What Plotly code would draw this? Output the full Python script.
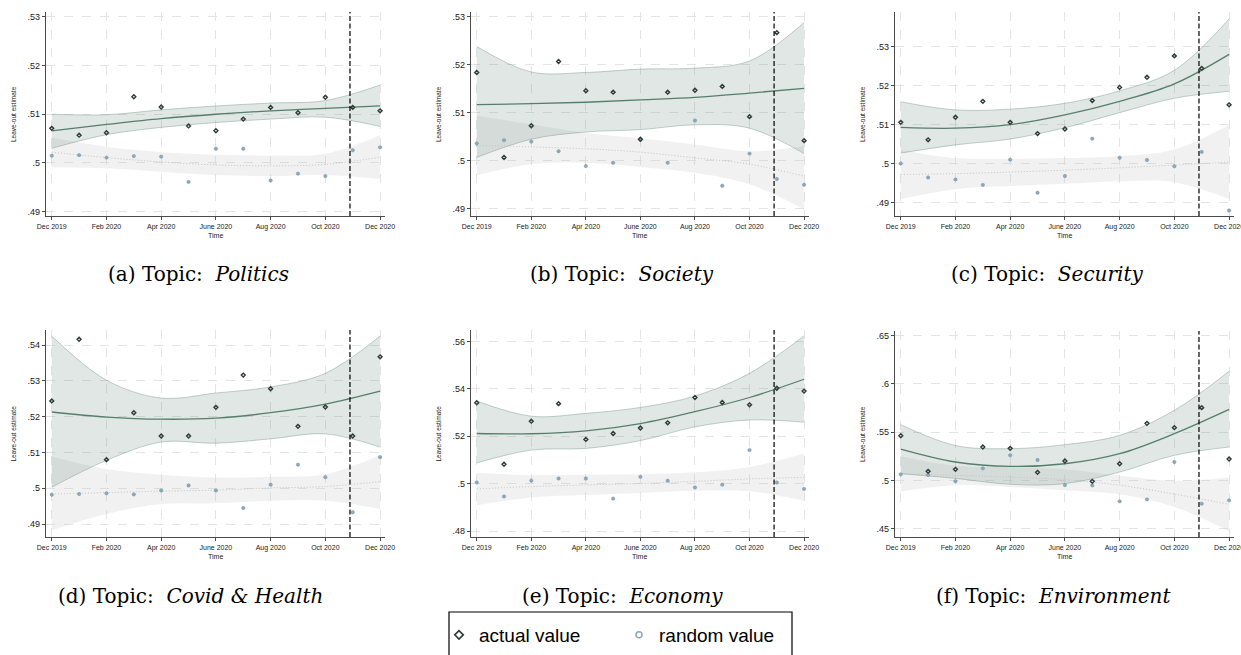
import plotly.graph_objects as go

# ---------------- data ----------------
MONTHS = list(range(13))          # 0 = Dec 2019 ... 12 = Dec 2020
FIT_X = [0, 2, 4, 6, 8, 10, 12]   # months where the fitted curves were read
TICK_VALS = [0, 2, 4, 6, 8, 10, 12]
TICK_TEXT = ["Dec 2019", "Feb 2020", "Apr 2020", "June 2020", "Aug 2020", "Oct 2020", "Dec 2020"]
EVENT_MONTH = 10.9                # dashed vertical line (early Nov 2020)

# (a) Politics
POL_ACTUAL = [.5071, .5057, .5062, .5136, .5115, .5076, .5066, .5090, .5114, .5103, .5135, .5114, .5107]
POL_RANDOM = [.5015, .5016, .5011, .5014, .5013, .4961, .5029, .5029, .4964, .4978, .4973, .5026, .5032]
POL_FIT = [.5066, .5079, .5091, .5100, .5107, .5112, .5117]
POL_FIT_HI = [.5100, .5099, .5109, .5117, .5123, .5128, .5160]
POL_FIT_LO = [.5030, .5058, .5073, .5083, .5090, .5094, .5075]
POL_RFIT = [.5022, .5011, .5002, .4996, .4994, .4997, .5012]
POL_RFIT_HI = [.5052, .5033, .5022, .5017, .5015, .5019, .5057]
POL_RFIT_LO = [.4991, .4989, .4982, .4975, .4973, .4975, .4967]

# (b) Society
SOC_ACTUAL = [.5184, .5007, .5073, .5207, .5146, .5143, .5045, .5143, .5147, .5155, .5092, .5267, .5042]
SOC_RANDOM = [.5036, .5043, .5040, .5020, .4989, .4996, .5044, .4996, .5084, .4948, .5015, .4962, .4950]
SOC_FIT = [.5117, .5119, .5122, .5127, .5132, .5141, .5151]
SOC_FIT_HI = [.5238, .5185, .5184, .5191, .5193, .5208, .5288]
SOC_FIT_LO = [.5007, .5045, .5060, .5065, .5075, .5068, .5015]
SOC_RFIT = [.5032, .5029, .5025, .5018, .5006, .4993, .4968]
SOC_RFIT_HI = [.5094, .5076, .5058, .5047, .5034, .5020, .5031]
SOC_RFIT_LO = [.4970, .4993, .4996, .4987, .4975, .4951, .4899]

# (c) Security
SEC_ACTUAL = [.5106, .5061, .5119, .5160, .5106, .5077, .5089, .5162, .5196, .5222, .5277, .5245, .5151]
SEC_RANDOM = [.5000, .4964, .4959, .4945, .5010, .4925, .4968, .5064, .5015, .5009, .4993, .5030, .4879]
SEC_FIT = [.5093, .5091, .5100, .5125, .5160, .5205, .5281]
SEC_FIT_HI = [.5159, .5138, .5140, .5155, .5187, .5240, .5372]
SEC_FIT_LO = [.5027, .5048, .5063, .5092, .5131, .5168, .5186]
SEC_RFIT = [.4972, .4974, .4978, .4983, .4989, .4996, .5004]
SEC_RFIT_HI = [.5035, .5014, .5012, .5014, .5019, .5036, .5100]
SEC_RFIT_LO = [.4909, .4934, .4942, .4948, .4954, .4952, .4909]

# (d) Covid & Health
COV_ACTUAL = [.5244, .5416, .5080, .5211, .5146, .5146, .5226, .5316, .5278, .5173, .5227, .5146, .5367]
COV_RANDOM = [.4982, .4984, .4986, .4983, .4994, .5008, .4994, .4945, .5010, .5066, .5031, .4933, .5087]
COV_FIT = [.5213, .5199, .5193, .5196, .5211, .5235, .5271]
COV_FIT_HI = [.5425, .5302, .5252, .5266, .5283, .5321, .5425]
COV_FIT_LO = [.5003, .5078, .5129, .5126, .5138, .5152, .5115]
COV_RFIT = [.4984, .4988, .4992, .4995, .5001, .5005, .5019]
COV_RFIT_HI = [.5089, .5054, .5038, .5030, .5032, .5039, .5092]
COV_RFIT_LO = [.4883, .4928, .4956, .4958, .4965, .4965, .4942]

# (e) Economy
ECO_ACTUAL = [.5342, .5082, .5264, .5338, .5187, .5212, .5235, .5257, .5364, .5343, .5333, .5403, .5391]
ECO_RANDOM = [.5005, .4946, .5013, .5022, .5022, .4937, .5029, .5013, .4984, .4996, .5142, .5005, .4978]
ECO_FIT = [.5212, .5211, .5223, .5254, .5304, .5364, .5441]
ECO_FIT_HI = [.5349, .5285, .5297, .5322, .5370, .5466, .5624]
ECO_FIT_LO = [.5088, .5142, .5149, .5182, .5240, .5269, .5260]
ECO_RFIT = [.4978, .4988, .4995, .5001, .5010, .5020, .5027]
ECO_RFIT_HI = [.5046, .5036, .5038, .5040, .5048, .5071, .5128]
ECO_RFIT_LO = [.4909, .4942, .4952, .4961, .4970, .4968, .4928]

# (f) Environment
ENV_ACTUAL = [.5462, .5093, .5114, .5345, .5331, .5083, .5200, .4990, .5172, .5590, .5545, .5752, .5221]
ENV_RANDOM = [.5062, .5055, .4990, .5124, .5259, .5210, .4952, .4948, .4783, .4803, .5190, .4759, .4793]
ENV_FIT = [.5324, .5190, .5145, .5172, .5276, .5483, .5734]
ENV_FIT_HI = [.5576, .5360, .5328, .5369, .5466, .5724, .6128]
ENV_FIT_LO = [.5069, .5020, .4959, .4966, .5086, .5259, .5345]
ENV_RFIT = [.5069, .5052, .5034, .5007, .4950, .4858, .4752]
ENV_RFIT_HI = [.5250, .5150, .5135, .5115, .5050, .4995, .5030]
ENV_RFIT_LO = [.4885, .4950, .4932, .4898, .4855, .4725, .4475]

Y_TICKS_A = [.49, .50, .51, .52, .53]
Y_TEXT_A = [".49", ".5", ".51", ".52", ".53"]
Y_TICKS_D = [.49, .50, .51, .52, .53, .54]
Y_TEXT_D = [".49", ".5", ".51", ".52", ".53", ".54"]
Y_TICKS_E = [.48, .50, .52, .54, .56]
Y_TEXT_E = [".48", ".5", ".52", ".54", ".56"]
Y_TICKS_F = [.45, .50, .55, .60, .65]
Y_TEXT_F = [".45", ".5", ".55", ".6", ".65"]

CAPTION_LETTERS = ["a", "b", "c", "d", "e", "f"]
TOPICS = ["Politics", "Society", "Security", "Covid &amp; Health", "Economy", "Environment"]
LEGEND_LABELS = ["actual value", "random value"]

PANELS = [
    (POL_ACTUAL, POL_RANDOM, POL_FIT, POL_FIT_HI, POL_FIT_LO, POL_RFIT, POL_RFIT_HI, POL_RFIT_LO, Y_TICKS_A, Y_TEXT_A),
    (SOC_ACTUAL, SOC_RANDOM, SOC_FIT, SOC_FIT_HI, SOC_FIT_LO, SOC_RFIT, SOC_RFIT_HI, SOC_RFIT_LO, Y_TICKS_A, Y_TEXT_A),
    (SEC_ACTUAL, SEC_RANDOM, SEC_FIT, SEC_FIT_HI, SEC_FIT_LO, SEC_RFIT, SEC_RFIT_HI, SEC_RFIT_LO, Y_TICKS_A, Y_TEXT_A),
    (COV_ACTUAL, COV_RANDOM, COV_FIT, COV_FIT_HI, COV_FIT_LO, COV_RFIT, COV_RFIT_HI, COV_RFIT_LO, Y_TICKS_D, Y_TEXT_D),
    (ECO_ACTUAL, ECO_RANDOM, ECO_FIT, ECO_FIT_HI, ECO_FIT_LO, ECO_RFIT, ECO_RFIT_HI, ECO_RFIT_LO, Y_TICKS_E, Y_TEXT_E),
    (ENV_ACTUAL, ENV_RANDOM, ENV_FIT, ENV_FIT_HI, ENV_FIT_LO, ENV_RFIT, ENV_RFIT_HI, ENV_RFIT_LO, Y_TICKS_F, Y_TEXT_F),
]

# ---------------- layout geometry (pixels) ----------------
W, H = 1241, 655
# left, right, top, bottom of each plot area
BOXES = [(46, 385, 12, 216), (471, 809, 12, 216), (895, 1234, 12, 216),
         (46, 385, 330, 537), (471, 809, 330, 537), (895, 1234, 331, 537)]
Y_RANGES = [(.4891, .5310), (.4885, .5310), (.4865, .5390),
            (.4864, .5442), (.4775, .5649), (.4414, .6545)]
X_RANGE = (-0.21, 12.18)
CAPTION_POS = [(198, 274), (622, 274), (1047, 274), (190, 596), (622, 596), (1053, 596)]

GREEN_LINE = "#557f6d"
GREEN_FILL = "rgba(100,135,118,0.20)"
GREEN_EDGE = "rgba(120,150,135,0.55)"
GRAY_FILL = "rgba(190,190,190,0.22)"
GRAY_LINE = "#c2c2c2"
ACTUAL_COLOR = "#2f3b36"
RANDOM_COLOR = "#8aa9ba"
AXIS_COLOR = "#4a4a4a"
SANS = "Liberation Sans, Arial, sans-serif"
TICK_FONT = dict(family=SANS, size=7, color="#222")

fig = go.Figure()
annotations = []
shapes = []
layout_axes = {}

for i, (panel, box, yr) in enumerate(zip(PANELS, BOXES, Y_RANGES)):
    (act, rnd, fit, hi, lo, rfit, rhi, rlo, yt, ytx) = panel
    n = i + 1
    xa = "x" if n == 1 else f"x{n}"
    ya = "y" if n == 1 else f"y{n}"
    common = dict(xaxis=xa, yaxis=ya, showlegend=False, hoverinfo="skip")

    # random-value CI band
    fig.add_trace(go.Scatter(x=FIT_X, y=rhi, mode="lines", line=dict(width=0, shape="spline"), **common))
    fig.add_trace(go.Scatter(x=FIT_X, y=rlo, mode="lines", line=dict(width=0, shape="spline"),
                             fill="tonexty", fillcolor=GRAY_FILL, **common))
    # actual-value CI band
    fig.add_trace(go.Scatter(x=FIT_X, y=hi, mode="lines", line=dict(width=0.8, color=GREEN_EDGE, shape="spline"), **common))
    fig.add_trace(go.Scatter(x=FIT_X, y=lo, mode="lines", line=dict(width=0.8, color=GREEN_EDGE, shape="spline"),
                             fill="tonexty", fillcolor=GREEN_FILL, **common))
    # fitted lines
    fig.add_trace(go.Scatter(x=FIT_X, y=rfit, mode="lines",
                             line=dict(width=1, color=GRAY_LINE, dash="1px,2px", shape="spline"), **common))
    fig.add_trace(go.Scatter(x=FIT_X, y=fit, mode="lines",
                             line=dict(width=1.3, color=GREEN_LINE, shape="spline"), **common))
    # points
    fig.add_trace(go.Scatter(x=MONTHS, y=rnd, mode="markers",
                             marker=dict(symbol="circle", size=3.4, color=RANDOM_COLOR,
                                         line=dict(width=0.5, color="#7796a8")), **common))
    fig.add_trace(go.Scatter(x=MONTHS, y=act, mode="markers",
                             marker=dict(symbol="diamond-open", size=3, color=ACTUAL_COLOR,
                                         line=dict(width=1.4, color=ACTUAL_COLOR)), **common))

    l, r, t, b = box
    layout_axes["xaxis" if n == 1 else f"xaxis{n}"] = dict(
        domain=[l / W, r / W], range=list(X_RANGE), anchor=ya,
        tickmode="array", tickvals=TICK_VALS, ticktext=TICK_TEXT,
        showgrid=True, gridcolor="#e4e4e4", griddash="dash", gridwidth=1,
        showline=True, linecolor=AXIS_COLOR, linewidth=1.2,
        ticks="outside", ticklen=3, tickcolor=AXIS_COLOR, tickwidth=1,
        tickfont=TICK_FONT, zeroline=False, fixedrange=True, ticklabeloverflow="allow",
    )
    layout_axes["yaxis" if n == 1 else f"yaxis{n}"] = dict(
        domain=[1 - b / H, 1 - t / H], range=list(yr), anchor=xa,
        tickmode="array", tickvals=yt, ticktext=ytx,
        showgrid=True, gridcolor="#e4e4e4", griddash="dash", gridwidth=1,
        showline=True, linecolor=AXIS_COLOR, linewidth=1.4,
        ticks="outside", ticklen=3, tickcolor=AXIS_COLOR, tickwidth=1,
        tickfont=dict(family=SANS, size=9, color="#222"),
        zeroline=False, fixedrange=True,
    )

    # event line
    shapes.append(dict(type="line", xref=xa, yref=f"{ya} domain", x0=EVENT_MONTH, x1=EVENT_MONTH,
                       y0=0, y1=1, line=dict(color="black", width=1.2, dash="5px,2.5px")))

    # axis titles
    annotations.append(dict(text="Leave-out estimate", xref="paper", yref="paper",
                            x=(l - 33) / W, y=1 - ((t + b) / 2) / H, textangle=-90, showarrow=False,
                            font=dict(family=SANS, size=6.5, color="#222"),
                            xanchor="center", yanchor="middle"))
    annotations.append(dict(text="Time", xref="paper", yref="paper",
                            x=((l + r) / 2) / W, y=1 - (b + 19) / H, showarrow=False,
                            font=dict(family=SANS, size=7, color="#222"),
                            xanchor="center", yanchor="middle"))
    # caption
    cx, cy = CAPTION_POS[i]
    annotations.append(dict(text=f"({CAPTION_LETTERS[i]}) Topic:&#160;&#160;<i>{TOPICS[i]}</i>",
                            xref="paper", yref="paper", x=cx / W, y=1 - cy / H, showarrow=False,
                            font=dict(family="DejaVu Serif, serif", size=20, color="black"),
                            xanchor="center", yanchor="middle"))

# legend entries (legend-only traces)
fig.add_trace(go.Scatter(x=[None], y=[None], mode="markers", name=LEGEND_LABELS[0],
                         marker=dict(symbol="diamond-open", size=6.5, color=ACTUAL_COLOR,
                                     line=dict(width=1.6, color=ACTUAL_COLOR))))
fig.add_trace(go.Scatter(x=[None], y=[None], mode="markers", name=LEGEND_LABELS[1],
                         marker=dict(symbol="circle-open", size=6, color=RANDOM_COLOR,
                                     line=dict(width=1.5, color=RANDOM_COLOR))))

# legend frame (bottom edge runs off the page like the reference)
shapes.append(dict(type="rect", xref="paper", yref="paper",
                   x0=449 / W, x1=792 / W, y0=-0.05, y1=1 - 612 / H,
                   line=dict(color="black", width=1.2), fillcolor="rgba(0,0,0,0)"))

fig.update_layout(
    width=W, height=H,
    margin=dict(l=0, r=0, t=0, b=0, autoexpand=False),
    paper_bgcolor="white", plot_bgcolor="white",
    annotations=annotations, shapes=shapes,
    showlegend=True,
    legend=dict(orientation="h", x=439 / W, y=1 - 616 / H, xanchor="left", yanchor="top",
                traceorder="normal",
                bgcolor="rgba(0,0,0,0)", borderwidth=0, entrywidth=135, entrywidthmode="pixels",
                font=dict(family=SANS, size=19, color="black"),
                itemclick=False, itemdoubleclick=False),
    **layout_axes,
)

fig.write_html("out.html", config={"displayModeBar": False})
